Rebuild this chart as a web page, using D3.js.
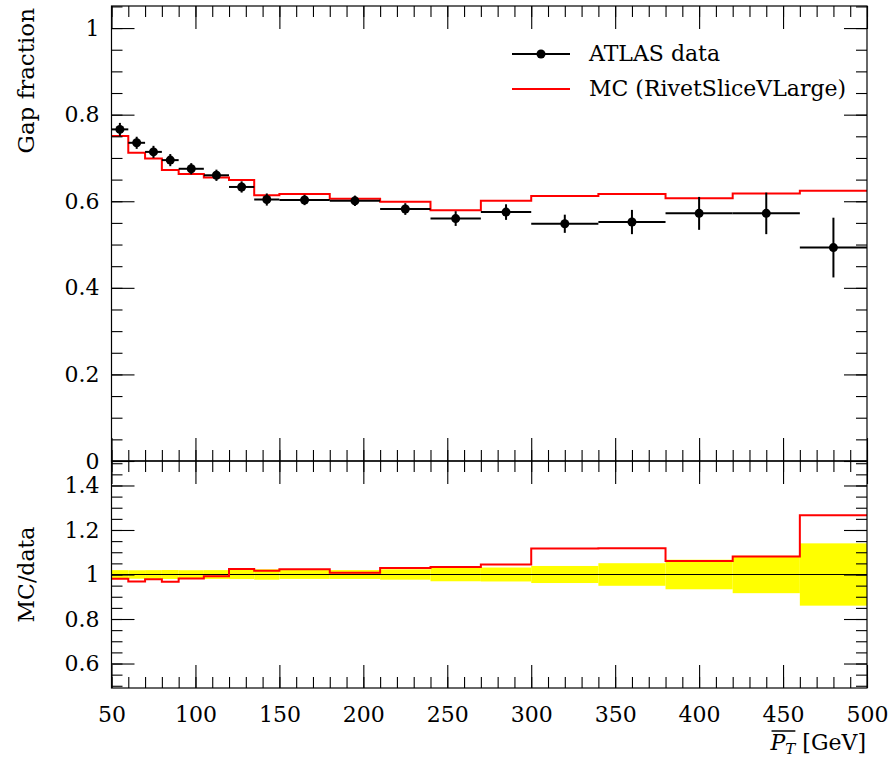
<!DOCTYPE html>
<html>
<head>
<meta charset="utf-8">
<script src="https://cdn.jsdelivr.net/npm/d3@7"></script>
<style>
  body { margin: 0; background: #fff; }
  svg text { font-family: "DejaVu Serif", serif; fill: #000; }
</style>
</head>
<body>
<svg id="chart" width="893" height="757"></svg>
<script>
// bin edges of the pT distribution (GeV)
const binEdges = [50, 60, 70, 80, 90, 105, 120, 135, 150, 180, 210, 240, 270, 300, 340, 380, 420, 460, 500];
// ATLAS data: gap fraction and its uncertainty per bin
const dataY = [0.766, 0.735, 0.714, 0.695, 0.675, 0.660, 0.633, 0.604, 0.603, 0.601, 0.582, 0.560, 0.575, 0.548, 0.552, 0.572, 0.572, 0.493];
const dataErr = [0.015, 0.014, 0.014, 0.014, 0.013, 0.013, 0.013, 0.014, 0.012, 0.012, 0.0135, 0.017, 0.018, 0.021, 0.028, 0.038, 0.048, 0.069];
// MC prediction
const mcY = [0.751, 0.712, 0.699, 0.672, 0.663, 0.655, 0.649, 0.614, 0.617, 0.606, 0.599, 0.579, 0.601, 0.612, 0.617, 0.607, 0.618, 0.624];

const xTicks = [50, 100, 150, 200, 250, 300, 350, 400, 450, 500];
const mainTicks = [0, 0.2, 0.4, 0.6, 0.8, 1];
const ratioTicks = [0.6, 0.8, 1, 1.2, 1.4];
const legendLabels = ["ATLAS data", "MC (RivetSliceVLarge)"];

const bins = dataY.map((v, i) => ({
  lo: binEdges[i], hi: binEdges[i + 1], mid: (binEdges[i] + binEdges[i + 1]) / 2,
  y: v, err: dataErr[i], mc: mcY[i],
  ratio: mcY[i] / v, band: dataErr[i] / v
}));

const svg = d3.select("#chart");
const left = 111.5, right = 867;
const mainTop = 6, mainBottom = 461, ratioBottom = 688;
const fontSize = 22;

const x = d3.scaleLinear().domain([50, 500]).range([left, right]);
const y = d3.scaleLinear().domain([0, 1.051]).range([mainBottom, mainTop]);
const yr = d3.scaleLinear().domain([0.49, 1.51]).range([ratioBottom, mainBottom]);

const xMinor = d3.range(50, 501, 10);
const yMinor = d3.range(0, 1.051, 0.05);
const rMinor = d3.range(0.5, 1.51, 0.05);

// draws inward ticks (major + minor) on all four sides of a panel
function frameTicks(yScale, top, bottom, yMaj, yMin, showXLabels) {
  const g = svg.append("g");
  const axes = [
    [d3.axisBottom(x), bottom, true], [d3.axisTop(x), top, false]
  ];
  axes.forEach(([ax, pos, lab]) => {
    g.append("g").attr("transform", `translate(0,${pos})`)
      .call(ax.tickValues(xMinor).tickSize(-11).tickFormat(""));
    g.append("g").attr("transform", `translate(0,${pos})`)
      .call(ax.tickValues(xTicks).tickSize(-23).tickPadding(18)
        .tickFormat(lab && showXLabels ? d3.format("d") : ""));
  });
  [[d3.axisLeft(yScale), left, true], [d3.axisRight(yScale), right, false]].forEach(([ax, pos, lab]) => {
    g.append("g").attr("transform", `translate(${pos},0)`)
      .call(ax.tickValues(yMin).tickSize(-11).tickFormat(""));
    g.append("g").attr("transform", `translate(${pos},0)`)
      .call(ax.tickValues(yMaj).tickSize(-23).tickPadding(12)
        .tickFormat(lab ? d3.format("~g") : ""));
  });
  g.selectAll(".domain").remove();
  g.selectAll(".tick line").attr("stroke", "#000").attr("stroke-width", 1.1);
  g.selectAll(".tick text").style("font-size", fontSize + "px").style("font-family", "DejaVu Serif");
  svg.append("rect").attr("x", left).attr("y", top)
    .attr("width", right - left).attr("height", bottom - top)
    .attr("fill", "none").attr("stroke", "#000").attr("stroke-width", 1.2);
}

const step = d3.line().curve(d3.curveStepAfter);

// ---- main panel ----
const mcPts = bins.map(d => [x(d.lo), y(d.mc)]);
mcPts.push([x(500), y(mcY[mcY.length - 1])]);
svg.append("path").attr("d", step(mcPts))
  .attr("fill", "none").attr("stroke", "#ff0000").attr("stroke-width", 2);

const pts = svg.append("g").selectAll("g").data(bins).join("g");
pts.append("line")
  .attr("x1", d => x(d.lo)).attr("x2", d => x(d.hi))
  .attr("y1", d => y(d.y)).attr("y2", d => y(d.y))
  .attr("stroke", "#000").attr("stroke-width", 2);
pts.append("line")
  .attr("x1", d => x(d.mid)).attr("x2", d => x(d.mid))
  .attr("y1", d => y(d.y - d.err)).attr("y2", d => y(d.y + d.err))
  .attr("stroke", "#000").attr("stroke-width", 2);
pts.append("circle")
  .attr("cx", d => x(d.mid)).attr("cy", d => y(d.y)).attr("r", 4.5).attr("fill", "#000");

frameTicks(y, mainTop, mainBottom, mainTicks, yMinor, false);

// ---- ratio panel ----
const rp = svg.append("g");
rp.selectAll("rect").data(bins).join("rect")
  .attr("x", d => x(d.lo)).attr("width", d => x(d.hi) - x(d.lo))
  .attr("y", d => yr(1 + d.band)).attr("height", d => yr(1 - d.band) - yr(1 + d.band))
  .attr("fill", "#ffff00");
rp.append("line").attr("x1", left).attr("x2", right)
  .attr("y1", yr(1)).attr("y2", yr(1)).attr("stroke", "#000").attr("stroke-width", 1.2);
const rPts = bins.map(d => [x(d.lo), yr(d.ratio)]);
rPts.push([x(500), yr(bins[bins.length - 1].ratio)]);
rp.append("path").attr("d", step(rPts))
  .attr("fill", "none").attr("stroke", "#ff0000").attr("stroke-width", 2);

frameTicks(yr, mainBottom, ratioBottom, ratioTicks, rMinor, true);

// ---- legend ----
const leg = svg.append("g");
leg.append("line").attr("x1", 512).attr("x2", 570).attr("y1", 54).attr("y2", 54)
  .attr("stroke", "#000").attr("stroke-width", 2);
leg.append("circle").attr("cx", 541).attr("cy", 54).attr("r", 4.5).attr("fill", "#000");
leg.append("line").attr("x1", 512).attr("x2", 570).attr("y1", 89).attr("y2", 89)
  .attr("stroke", "#ff0000").attr("stroke-width", 2);
leg.selectAll("text").data(legendLabels).join("text")
  .attr("x", 589).attr("y", (d, i) => 61 + i * 35)
  .style("font-size", fontSize + "px").text(d => d);

// ---- axis titles ----
svg.append("text").attr("transform", "translate(34,8) rotate(-90)")
  .attr("text-anchor", "end").style("font-size", "23px").text("Gap fraction");
svg.append("text").attr("transform", `translate(34,${yr(1)}) rotate(-90)`)
  .attr("text-anchor", "middle").style("font-size", fontSize + "px").text("MC/data");

const xl = svg.append("text").attr("x", 866).attr("y", 750)
  .attr("text-anchor", "end").style("font-size", "22px");
xl.append("tspan").style("font-style", "italic").text("P");
xl.append("tspan").style("font-style", "italic").style("font-size", "15px").attr("dy", 4).text("T");
xl.append("tspan").attr("dy", -4).text(" [GeV]");
const n = xl.node();
const ox0 = n.getStartPositionOfChar(0).x + 1;
const ox1 = n.getStartPositionOfChar(2).x;
svg.append("line").attr("x1", ox0).attr("x2", ox1).attr("y1", 731).attr("y2", 731)
  .attr("stroke", "#000").attr("stroke-width", 1.5);
</script>
</body>
</html>
